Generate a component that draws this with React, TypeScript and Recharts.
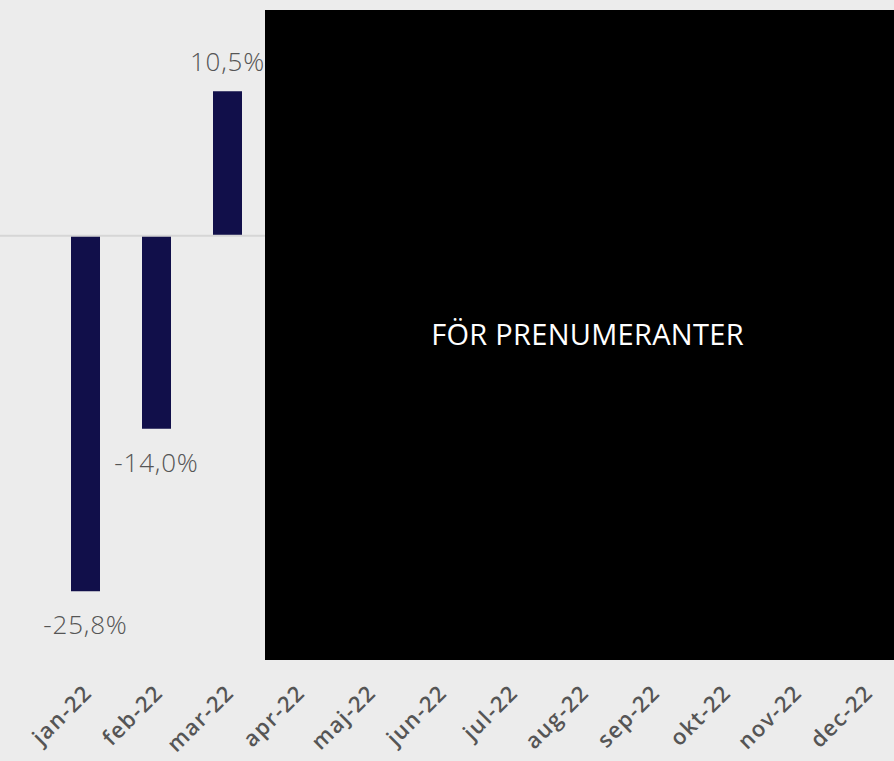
import { Bar, BarChart, LabelList, ReferenceLine, XAxis, YAxis } from 'recharts';

// Månadsförändring 2022, bara de tre första månaderna är publicerade.
const MONTHS = [
  'jan-22', 'feb-22', 'mar-22', 'apr-22', 'maj-22', 'jun-22',
  'jul-22', 'aug-22', 'sep-22', 'okt-22', 'nov-22', 'dec-22',
];
const CHANGE: (number | null)[] = [-25.8, -14.0, 10.5, null, null, null, null, null, null, null, null, null];

const BG = '#ececec';
const NAVY = '#110f4a';
const FONT = '"Open Sans", Inter, sans-serif';

const rows = MONTHS.map((month, i) => ({ month, change: CHANGE[i] }));

function fmtPct(v: number): string {
  return `${v.toFixed(1).replace('.', ',')}%`;
}

function ValueLabel(props: any) {
  const { x, y, width, height, value } = props;
  if (value == null) return null;
  const top = Math.min(y, y + height);
  const bottom = Math.max(y, y + height);
  const cx = x + width / 2;
  const ty = value >= 0 ? top - 20 : bottom + 43;
  return (
    <text
      x={cx}
      y={ty}
      textAnchor="middle"
      fill="#555555"
      fontSize={26}
      fontWeight={300}
      letterSpacing={0.8}
      fontFamily={FONT}
    >
      {fmtPct(value)}
    </text>
  );
}

function MonthTick(props: any) {
  const { x, y, payload } = props;
  return (
    <g transform={`translate(${x + 8},${y + 26})`}>
      <text
        textAnchor="end"
        transform="rotate(-45)"
        fill="#555555"
        fontSize={22}
        fontWeight={600}
        letterSpacing={1.4}
        fontFamily={FONT}
      >
        {payload.value}
      </text>
    </g>
  );
}

// Nollinjen går ända ut till vänsterkanten.
function ZeroLine(props: any) {
  const { x2, y1 } = props;
  return <line x1={-8} y1={y1} x2={x2} y2={y1} stroke="#d6d6d6" strokeWidth={2} />;
}

export default function App() {
  return (
    <div style={{ position: 'fixed', left: 0, top: 0, width: 894, height: 761, overflow: 'hidden', background: BG }}>
      <BarChart
        width={910}
        height={761}
        data={rows}
        margin={{ top: 10, right: 8, bottom: 0, left: 50 }}
        style={{ overflow: 'visible' }}
      >
        <XAxis
          dataKey="month"
          height={101}
          axisLine={false}
          tickLine={false}
          interval={0}
          tick={<MonthTick />}
        />
        <YAxis hide domain={[-30.8, 16.4]} />
        <ReferenceLine y={0} shape={<ZeroLine />} />
        <Bar dataKey="change" fill={NAVY} barSize={29} isAnimationActive={false}>
          <LabelList dataKey="change" content={<ValueLabel />} />
        </Bar>
      </BarChart>
      <div
        style={{
          position: 'absolute',
          left: 265,
          top: 10,
          width: 629,
          height: 650,
          background: '#000',
        }}
      >
        <div
          style={{
            position: 'absolute',
            left: 0,
            right: 0,
            top: 304,
            textAlign: 'center',
            paddingLeft: 16,
            color: '#fff',
            fontFamily: FONT,
            fontSize: 29,
            letterSpacing: 0.3,
          }}
        >
          FÖR PRENUMERANTER
        </div>
      </div>
    </div>
  );
}
